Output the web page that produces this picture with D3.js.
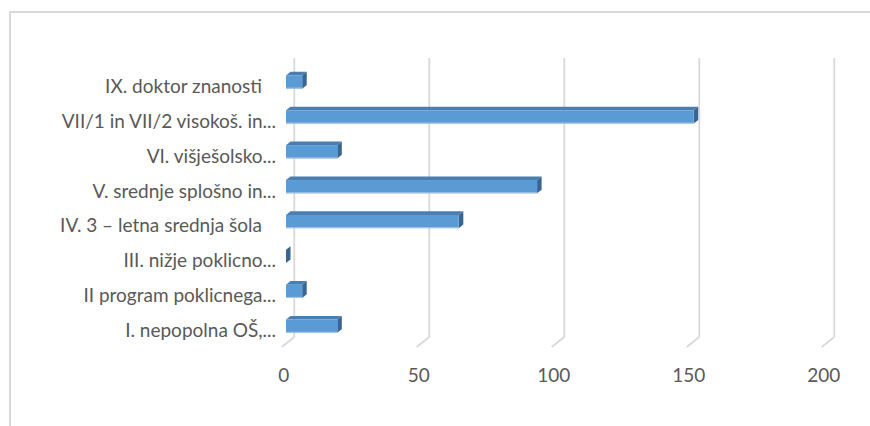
<!DOCTYPE html>
<html>
<head>
<meta charset="utf-8">
<script src="https://cdn.jsdelivr.net/npm/d3@7"></script>
<style>
  body { margin: 0; background: #fff; }
  svg { display: block; }
  text { font-family: Lato, "Open Sans", sans-serif; fill: #595959; }
</style>
</head>
<body>
<svg id="barChart" width="870" height="426"></svg>
<script>
// categories from bottom to top, as Excel draws them
let categories = [
    "I. nepopolna OŠ,...",
    "II program poklicnega...",
    "III. nižje poklicno...",
    "IV. 3 – letna srednja šola",
    "V. srednje splošno in...",
    "VI. višješolsko...",
    "VII/1 in VII/2 visokoš. in...",
    "IX. doktor znanosti"
];
let values = [19, 6, 0, 64, 93, 19, 151, 6];
let ticks = [0, 50, 100, 150, 200];

let chart = d3.select("#barChart");

// floor front plane
let x = d3.scaleLinear().domain([0, 200]).range([281.7, 821.7]);
let y = d3.scaleBand().domain(categories).range([347, 68])
    .paddingInner(0.62).paddingOuter(0.31);

// oblique depth of the whole plot (front -> back wall)
let depthX = 12.6, depthY = -10;
// bars sit between these depth fractions
let barFront = 0.34, barBack = 0.70;

// chart area border
chart.append("rect")
    .attr("x", 10).attr("y", 12)
    .attr("width", 900).attr("height", 450)
    .attr("fill", "none")
    .attr("stroke", "#d9d9d9")
    .attr("stroke-width", 2);

let grid = chart.append("g");
let wallTop = y.range()[1] + depthY;
let wallBottom = y.range()[0] + depthY;

grid.selectAll("line.wall").data(ticks).enter().append("line")
    .attr("class", "wall")
    .attr("x1", d => x(d) + depthX).attr("x2", d => x(d) + depthX)
    .attr("y1", wallTop).attr("y2", wallBottom)
    .attr("stroke", "#d9d9d9").attr("stroke-width", 1.8);

grid.selectAll("line.floor").data(ticks).enter().append("line")
    .attr("class", "floor")
    .attr("x1", d => x(d) + depthX).attr("y1", wallBottom)
    .attr("x2", d => x(d)).attr("y2", y.range()[0])
    .attr("stroke", "#d9d9d9").attr("stroke-width", 1.8);

// tick labels
chart.append("g").selectAll("text").data(ticks).enter().append("text")
    .attr("x", d => x(d) + 2)
    .attr("y", 374)
    .attr("text-anchor", "middle")
    .attr("dominant-baseline", "central")
    .attr("font-size", 19)
    .text(d => d);

// category labels; full (not shortened) labels end a little further left
chart.append("g").selectAll("text").data(categories).enter().append("text")
    .attr("x", d => d.endsWith("...") ? 276 : 262)
    .attr("y", d => y(d) + y.bandwidth() / 2)
    .attr("text-anchor", "end")
    .attr("dominant-baseline", "central")
    .attr("font-size", 19)
    .text(d => d);

// 3D bars
let bars = categories.map((c, i) => ({ name: c, value: values[i] }));
let fx = barFront * depthX, fy = barFront * depthY;
let bx = (barBack - barFront) * depthX, by = (barBack - barFront) * depthY;

let barGroup = chart.append("g").selectAll("g").data(bars).enter().append("g");

let frontBox = d => {
    let x0 = x(0) + fx, x1 = x(d.value) + fx;
    let y0 = y(d.name) + fy, y1 = y0 + y.bandwidth();
    return { x0, x1, y0, y1 };
};

// top face
barGroup.append("path")
    .attr("d", d => {
        let b = frontBox(d);
        return "M" + b.x0 + "," + b.y0 + "L" + b.x1 + "," + b.y0 +
            "L" + (b.x1 + bx) + "," + (b.y0 + by) + "L" + (b.x0 + bx) + "," + (b.y0 + by) + "Z";
    })
    .attr("fill", "#4a7db0");

// side face
barGroup.append("path")
    .attr("d", d => {
        let b = frontBox(d);
        return "M" + b.x1 + "," + b.y0 + "L" + (b.x1 + bx) + "," + (b.y0 + by) +
            "L" + (b.x1 + bx) + "," + (b.y1 + by) + "L" + b.x1 + "," + b.y1 + "Z";
    })
    .attr("fill", "#3a6592");

// front face
barGroup.append("rect")
    .attr("x", d => frontBox(d).x0)
    .attr("y", d => frontBox(d).y0)
    .attr("width", d => frontBox(d).x1 - frontBox(d).x0)
    .attr("height", y.bandwidth())
    .attr("fill", "#5b9bd5");

barGroup.append("line")
    .attr("x1", d => frontBox(d).x0)
    .attr("x2", d => frontBox(d).x1)
    .attr("y1", d => frontBox(d).y1 - 0.5)
    .attr("y2", d => frontBox(d).y1 - 0.5)
    .attr("stroke", "#a9c8e8")
    .attr("stroke-width", 1);
</script>
</body>
</html>
